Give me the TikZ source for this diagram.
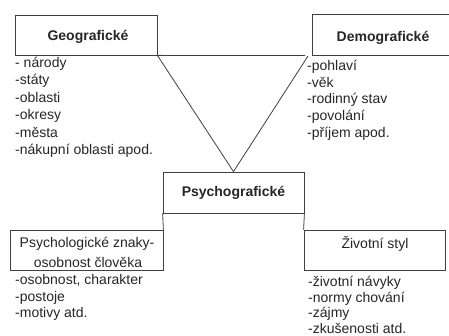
\documentclass[tikz,border=0pt]{standalone}
\usepackage{fontspec}
\setmainfont{Liberation Sans}
\begin{document}
\begin{tikzpicture}[x=1pt,y=-1pt,
  box/.style={draw=black!75, line width=0.8pt, rectangle, inner sep=0pt},
  conn/.style={draw=black!75, line width=0.8pt},
  title/.style={font=\fontsize{14}{17}\selectfont\bfseries, text=black!85, inner sep=0pt},
  label/.style={font=\fontsize{14}{17}\selectfont, text=black!85, inner sep=0pt},
  item/.style={font=\fontsize{14}{17}\selectfont, text=black!85, inner sep=0pt, anchor=base west}]
\useasboundingbox (0,0) rectangle (449,336);
\clip (0,0) rectangle (449,336);
\fill[white] (0,0) rectangle (449,336);
% boxes
\node[box, minimum width=142pt, minimum height=40pt] (geo) at (86,35) {};
\node[box, minimum width=140pt, minimum height=41pt] (demo) at (382,34.5) {};
\node[box, minimum width=141pt, minimum height=41pt] (psy) at (233.5,192.5) {};
\node[box, minimum width=153pt, minimum height=40pt] (psyzn) at (86.5,250) {};
\node[box, minimum width=141pt, minimum height=40pt] (life) at (374.5,250) {};
% titles
\node[title] (geot) at (88,36.5) {Geografické};
\node[title] (demot) at (383,37.5) {Demografické};
\node[title] (psyt) at (233.5,193) {Psychografické};
\node[label] (psyzt1) at (87,244) {Psychologické znaky-};
\node[label] (psyzt2) at (88,262.5) {osobnost člověka};
\node[label] (lifet) at (375,244) {Životní styl};
% connectors
\coordinate (hend) at (305,55.5);
\coordinate (vr) at (308,56);
\draw[conn] (geo.south east) -- (hend);
\draw[conn] (geo.south east) -- (psy.north);
\draw[conn] (vr) -- (psy.north);
\draw[conn] (psy.south west) -- (psyzn.north east);
\draw[conn] (psy.south east) -- (life.north west);
% lists
\foreach [count=\i] \t in {{- národy},{-státy},{-oblasti},{-okresy},{-města},{-nákupní oblasti apod.}}
  \node[item] (geol\i) at (15,{67.5+17.4*(\i-1)}) {\t};
\foreach [count=\i] \t in {{-pohlaví},{-věk},{-rodinný stav},{-povolání},{-příjem apod.}}
  \node[item] (demol\i) at (307,{70.5+16.75*(\i-1)}) {\t};
\foreach [count=\i] \t in {{-osobnost, charakter},{-postoje},{-motivy atd.}}
  \node[item] (psyl\i) at (15,{284.5+16.5*(\i-1)}) {\t};
\foreach [count=\i] \t in {{-životní návyky},{-normy chování},{-zájmy},{-zkušenosti atd.}}
  \node[item] (lifel\i) at (308,{286.5+15.7*(\i-1)}) {\t};
\end{tikzpicture}
\end{document}
